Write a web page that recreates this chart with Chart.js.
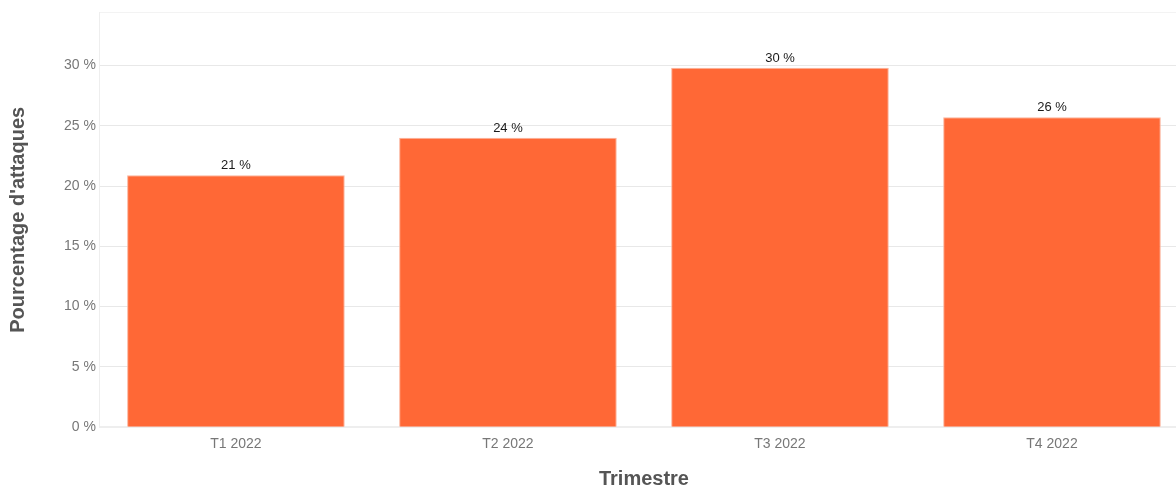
<!DOCTYPE html>
<html>
<head>
<meta charset="utf-8">
<script src="https://cdn.jsdelivr.net/npm/chart.js@4"></script>
<style>
  html, body { margin: 0; padding: 0; background: #fff; overflow: hidden; }
  #wrap { width: 1188px; height: 487px; }
</style>
</head>
<body>
<div id="wrap"><canvas id="chart"></canvas></div>
<script>
// Data
const quarters = ['T1 2022', 'T2 2022', 'T3 2022', 'T4 2022'];
const attackShare = [20.9, 24.0, 29.8, 25.7];
const yTicks = [0, 5, 10, 15, 20, 25, 30];
const yMax = 34.4;

const FONT = '"Liberation Sans", Arial, Helvetica, sans-serif';

// Value label above each bar
const barLabels = {
    id: 'barLabels',
    afterDatasetsDraw(chart) {
        const ctx = chart.ctx;
        const meta = chart.getDatasetMeta(0);
        ctx.save();
        ctx.font = '13px ' + FONT;
        ctx.fillStyle = '#1a1a1a';
        ctx.textAlign = 'center';
        ctx.textBaseline = 'bottom';
        meta.data.forEach((bar, i) => {
            ctx.fillText(Math.round(attackShare[i]) + ' %', bar.x, bar.y - 3);
        });
        ctx.restore();
    }
};

const ctx = document.getElementById('chart').getContext('2d');
new Chart(ctx, {
    type: 'bar',
    data: {
        labels: quarters,
        datasets: [{
            data: attackShare,
            backgroundColor: '#ff6836',
            borderColor: '#fbb39b',
            borderWidth: 1,
            categoryPercentage: 0.8,
            barPercentage: 1.0
        }]
    },
    options: {
        responsive: true,
        maintainAspectRatio: false,
        animation: false,
        layout: { padding: { top: 7, right: 0, left: 6, bottom: -4 } },
        plugins: {
            legend: { display: false },
            tooltip: { enabled: false }
        },
        scales: {
            x: {
                grid: { display: false },
                border: { color: '#eeeeee', width: 2 },
                ticks: { color: '#777', font: { size: 14, family: FONT }, padding: 1 },
                title: {
                    display: true,
                    text: 'Trimestre',
                    color: '#555',
                    font: { size: 20, weight: 'bold', family: FONT },
                    padding: { top: 13, bottom: 0 }
                }
            },
            y: {
                min: 0,
                max: yMax,
                afterBuildTicks(scale) {
                    scale.ticks = yTicks.map(v => ({ value: v })).concat([{ value: yMax }]);
                },
                grid: {
                    color: ctx => ctx.tick && ctx.tick.value === yMax ? '#f3f3f3' : '#e8e8e8',
                    drawTicks: false
                },
                border: { color: '#eeeeee', width: 1 },
                ticks: {
                    color: '#777',
                    font: { size: 14, family: FONT },
                    padding: 4,
                    callback: v => yTicks.includes(v) ? v + ' %' : ''
                },
                title: {
                    display: true,
                    text: "Pourcentage d'attaques",
                    color: '#555',
                    font: { size: 20, weight: 'bold', family: FONT },
                    padding: { top: 0, bottom: 30 }
                }
            }
        }
    },
    plugins: [barLabels]
});
</script>
</body>
</html>
